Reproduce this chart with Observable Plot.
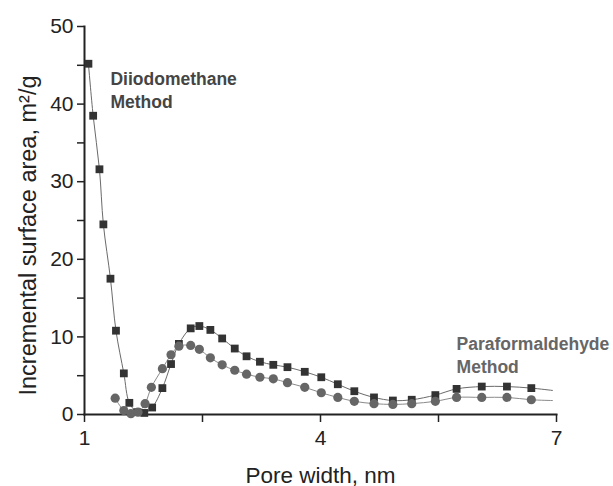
<!DOCTYPE html>
<html><head><meta charset="utf-8">
<script src="https://cdn.jsdelivr.net/npm/d3@7"></script>
<script src="https://cdn.jsdelivr.net/npm/@observablehq/plot@0.6"></script>
<style>body{margin:0;background:#fff}</style>
</head><body><div id="chart"></div>
<script>
// Diiodomethane method (squares)
const poreWidthDiiodo = [1.05, 1.11, 1.19, 1.24, 1.33, 1.40, 1.50, 1.57, 1.67, 1.76, 1.86, 1.99, 2.10, 2.20, 2.35, 2.46, 2.60, 2.75, 2.91, 3.06, 3.23, 3.40, 3.58, 3.80, 4.01, 4.22, 4.43, 4.68, 4.92, 5.16, 5.46, 5.73, 6.05, 6.37, 6.68];
const areaDiiodo      = [45.2, 38.5, 31.6, 24.5, 17.5, 10.8, 5.3, 1.5, 0.3, 0.2, 0.9, 3.4, 6.5, 9.1, 11.1, 11.4, 10.9, 9.8, 8.5, 7.5, 6.8, 6.4, 6.1, 5.5, 4.8, 3.9, 3.0, 2.2, 1.8, 1.9, 2.5, 3.3, 3.6, 3.6, 3.4];
// Paraformaldehyde method (circles)
const poreWidthPara = [1.39, 1.50, 1.59, 1.68, 1.77, 1.85, 1.99, 2.10, 2.20, 2.35, 2.46, 2.60, 2.75, 2.91, 3.06, 3.23, 3.40, 3.58, 3.80, 4.01, 4.22, 4.43, 4.68, 4.92, 5.16, 5.46, 5.73, 6.05, 6.37, 6.68];
const areaPara      = [2.1, 0.5, 0.1, 0.3, 1.4, 3.5, 5.9, 7.7, 8.8, 8.9, 8.4, 7.3, 6.4, 5.7, 5.2, 4.8, 4.6, 4.1, 3.5, 2.8, 2.2, 1.7, 1.4, 1.3, 1.4, 1.7, 2.2, 2.2, 2.2, 1.9];
// line tails (curve continues past last marker)
const tailWidth = 6.95;
const tailDiiodo = 3.1;
const tailPara = 1.8;

const xTicks = [1, 2.5, 4, 5.5, 7];
const xTickLabels = [1, 4, 7];
const yTicks = [0, 5, 10, 15, 20, 25, 30, 35, 40, 45, 50];
const yTickLabels = [0, 10, 20, 30, 40, 50];

const diiodo = poreWidthDiiodo.map((x, i) => ({x, y: areaDiiodo[i]}));
const para = poreWidthPara.map((x, i) => ({x, y: areaPara[i]}));
const diiodoLine = [...diiodo, {x: tailWidth, y: tailDiiodo}];
const paraLine = [...para, {x: tailWidth, y: tailPara}];

const annotations = [
  {x: 1.33, y: 44.6, label: "Diiodomethane\nMethod", color: "#454545"},
  {x: 5.73, y: 10.4, label: "Paraformaldehyde\nMethod", color: "#666666"}
];

const chart = Plot.plot({
  width: 613, height: 486,
  marginLeft: 84, marginRight: 57, marginTop: 26, marginBottom: 72,
  x: {domain: [1, 7]},
  y: {domain: [0, 50]},
  style: {fontFamily: "Liberation Sans, Arial, sans-serif", fontSize: "21px", color: "#222", background: "#fff", overflow: "visible"},
  marks: [
    Plot.axisX({ticks: xTicks, tickFormat: d => xTickLabels.includes(d) ? String(d) : "", tickSize: 8, tickPadding: 8, strokeWidth: 1.5, label: null, fontSize: 21}),
    Plot.axisY({ticks: yTicks, tickFormat: d => yTickLabels.includes(d) ? String(d) : "", tickSize: 7, tickPadding: 4, strokeWidth: 1.5, label: null, fontSize: 21}),
    Plot.frame({anchor: "left", strokeWidth: 2, stroke: "#222"}),
    Plot.frame({anchor: "bottom", strokeWidth: 2, stroke: "#222"}),
    Plot.line(diiodoLine, {x: "x", y: "y", curve: "catmull-rom", stroke: "#6a6a6a", strokeWidth: 1}),
    Plot.line(paraLine, {x: "x", y: "y", curve: "catmull-rom", stroke: "#8a8a8a", strokeWidth: 1}),
    Plot.dot(diiodo, {x: "x", y: "y", symbol: "square", r: 4.4, fill: "#333", stroke: null}),
    Plot.dot(para, {x: "x", y: "y", symbol: "circle", r: 4.6, fill: "#666", stroke: null}),
    Plot.text(annotations, {x: "x", y: "y", text: "label", fill: "color", textAnchor: "start", lineAnchor: "top", lineHeight: 1.31, fontSize: 17.5, fontWeight: "bold"}),
    Plot.text(["Pore width, nm"], {frameAnchor: "bottom", textAnchor: "middle", dy: 68, lineAnchor: "bottom", fontSize: 22.5, fill: "#222"}),
    Plot.text(["Incremental surface area, m²/g"], {frameAnchor: "left", textAnchor: "middle", rotate: -90, dx: -49, dy: 15, lineAnchor: "bottom", fontSize: 23.5, fill: "#222"})
  ]
});
document.getElementById("chart").appendChild(chart);
</script>
</body></html>
